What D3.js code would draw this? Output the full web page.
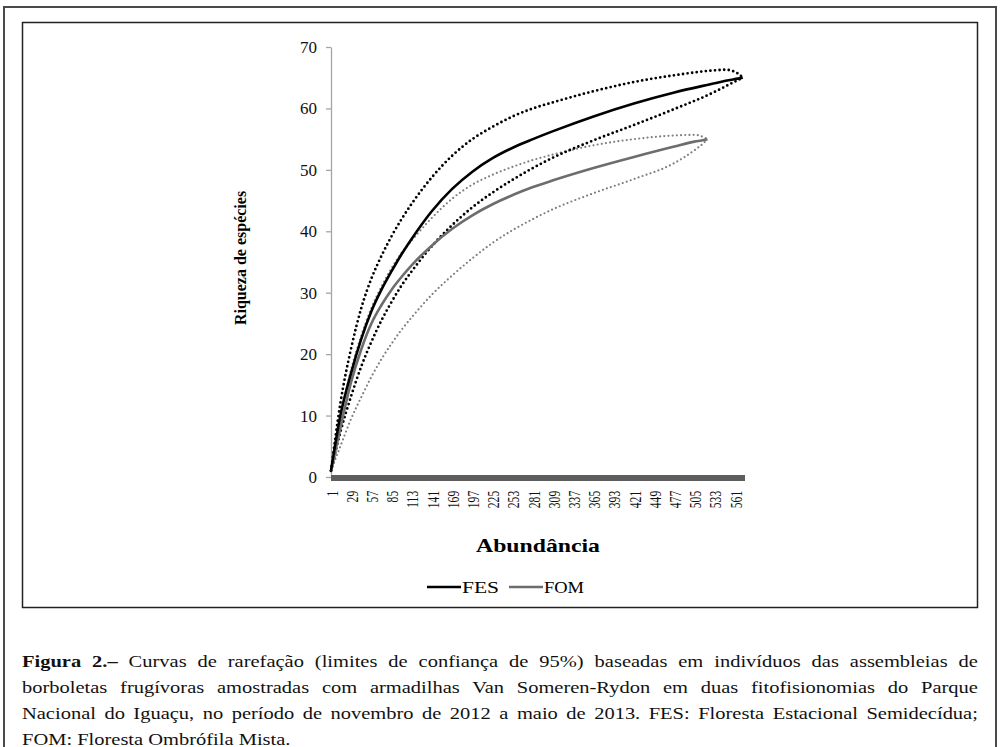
<!DOCTYPE html>
<html>
<head>
<meta charset="utf-8">
<script src="https://cdn.jsdelivr.net/npm/d3@7"></script>
<style>
    body { margin: 0; background: #fff; }
    #page { position: relative; width: 1000px; height: 747px; overflow: hidden; }
    #caption {
        position: absolute; left: 22px; top: 650px; width: 817px;
        transform: scaleX(1.17); transform-origin: left top;
        font-family: "Liberation Serif", "Times New Roman", serif;
        font-size: 17.5px; line-height: 26px; color: #111;
    }
    #caption div { height: 26px; line-height: 22px; text-align: justify; text-align-last: justify; white-space: nowrap; }
    #caption div.last { text-align-last: left; height: 22px; }
</style>
</head>
<body>
<div id="page">
    <div id="chart"></div>
    <div id="caption">
        <div><b>Figura 2.–</b> Curvas de rarefação (limites de confiança de 95%) baseadas em indivíduos das assembleias de</div>
        <div>borboletas frugívoras amostradas com armadilhas Van Someren-Rydon em duas fitofisionomias do Parque</div>
        <div>Nacional do Iguaçu, no período de novembro de 2012 a maio de 2013. FES: Floresta Estacional Semidecídua;</div>
        <div class="last">FOM: Floresta Ombrófila Mista.</div>
    </div>
</div>
<script>
// abundance (individuals) sampled along each curve
let fesN = [1, 14, 29, 43, 57, 71, 85, 99, 113, 141, 169, 197, 225, 253, 281, 309, 365, 421, 477, 533, 548, 565, 572];
let fesMean = [1, 10, 17, 22.5, 27, 30.5, 33.5, 36.3, 38.8, 43.3, 46.9, 49.7, 51.9, 53.6, 55, 56.3, 58.7, 60.8, 62.6, 64.1, 64.5, 64.85, 65];
let fesUpper = [1, 12, 21, 27.5, 32.3, 36, 39.2, 42, 44.5, 48.8, 52.3, 55, 57, 58.7, 60, 61, 62.8, 64.3, 65.4, 66.2, 66.3, 65.7, 65];
let fesLower = [1, 7.3, 13.2, 18, 22, 25.5, 28.5, 31.2, 33.5, 37.6, 41, 43.9, 46.3, 48.4, 50.3, 52, 54.8, 57.3, 59.9, 62.7, 63.6, 64.6, 65];

let fomN = [1, 14, 29, 43, 57, 71, 85, 99, 113, 141, 169, 197, 225, 253, 281, 309, 365, 421, 477, 505, 518, 523];
let fomMean = [1, 8, 15.5, 20.8, 25, 28, 30.5, 32.6, 34.5, 37.7, 40.4, 42.6, 44.4, 45.9, 47.2, 48.3, 50.3, 52.1, 53.8, 54.6, 54.85, 55];
let fomUpper = [1, 9.5, 17.5, 23, 27.5, 31, 34, 36.5, 38.5, 42.2, 45.3, 47.6, 49.2, 50.5, 51.6, 52.5, 54, 55, 55.6, 55.7, 55.3, 55];
let fomLower = [1, 5, 9.5, 13, 16.3, 19.2, 21.7, 24, 26, 29.7, 32.8, 35.6, 38.1, 40.2, 42, 43.6, 46.2, 48.5, 51.1, 53.2, 54.4, 55];

let xTickLabels = [1, 29, 57, 85, 113, 141, 169, 197, 225, 253, 281, 309, 337, 365, 393, 421, 449, 477, 505, 533, 561];
let yTickLabels = [0, 10, 20, 30, 40, 50, 60, 70];
let seriesNames = ["FES", "FOM"];

class RarefactionChart {

    constructor(parentElement) {
        this.parentElement = parentElement;
        this.initVis();
    }

    initVis() {
        let vis = this;

        vis.svg = d3.select("#" + vis.parentElement).append("svg")
            .attr("width", 1000)
            .attr("height", 747)
            .style("position", "absolute")
            .style("left", 0).style("top", 0);

        // outer page frame and inner chart frame
        vis.svg.append("rect")
            .attr("x", 4).attr("y", 7).attr("width", 992).attr("height", 760)
            .attr("fill", "none").attr("stroke", "#4a4a4a").attr("stroke-width", 2);
        vis.svg.append("rect")
            .attr("x", 22.5).attr("y", 22.5).attr("width", 955).attr("height", 585)
            .attr("fill", "none").attr("stroke", "#222").attr("stroke-width", 1.5);

        vis.font = "'Liberation Serif', 'Times New Roman', serif";

        vis.x = d3.scaleLinear().domain([1, 575]).range([331, 745]);
        vis.y = d3.scaleLinear().domain([0, 70]).range([477, 47]);

        // y axis
        let yAxis = d3.axisLeft(vis.y)
            .tickValues(yTickLabels)
            .tickSize(5)
            .tickSizeOuter(0)
            .tickPadding(9);
        let gy = vis.svg.append("g")
            .attr("transform", `translate(${vis.x(1)},0)`)
            .call(yAxis);
        gy.select(".domain").attr("stroke", "#a6a6a6").attr("stroke-width", 1.3);
        gy.selectAll(".tick line").attr("stroke", "#a6a6a6").attr("stroke-width", 1.3);
        gy.selectAll("text")
            .style("font-family", vis.font).style("font-size", "17px").attr("fill", "#111");

        // x axis (category labels, rotated; squeezed along their length like the source)
        let xAxis = d3.axisBottom(vis.x)
            .tickValues(xTickLabels)
            .tickSize(0);
        let gx = vis.svg.append("g")
            .attr("transform", `translate(0,${vis.y(0)})`)
            .call(xAxis);
        gx.select(".domain").remove();
        gx.selectAll("text")
            .attr("transform", "rotate(-90) scale(0.66,1)")
            .attr("x", -21).attr("y", 0).attr("dy", "0.35em")
            .style("text-anchor", "end")
            .style("font-family", vis.font).style("font-size", "17.5px").attr("fill", "#111");

        // thick grey baseline
        vis.svg.append("line")
            .attr("x1", vis.x(1)).attr("x2", vis.x(575))
            .attr("y1", vis.y(0) + 1).attr("y2", vis.y(0) + 1)
            .attr("stroke", "#5e5e5e").attr("stroke-width", 6);

        // axis titles
        vis.svg.append("text")
            .text("Abundância")
            .attr("x", 476).attr("y", 552)
            .attr("textLength", 124)
            .attr("lengthAdjust", "spacingAndGlyphs")
            .style("font-family", vis.font).style("font-weight", "bold").style("font-size", "19px");
        vis.svg.append("text")
            .text("Riqueza de espécies")
            .attr("transform", "translate(246,258) rotate(-90)")
            .attr("text-anchor", "middle")
            .style("font-family", vis.font).style("font-weight", "bold").style("font-size", "16px");

        vis.drawCurves();
        vis.drawLegend();
    }

    drawCurves() {
        let vis = this;

        let line = d3.line()
            .x(d => vis.x(d[0]))
            .y(d => vis.y(d[1]))
            .curve(d3.curveMonotoneX);

        let curves = [
            {n: fomN, v: fomUpper, color: "#7f7f7f", width: 2.2, dash: "0 4.2"},
            {n: fomN, v: fomLower, color: "#7f7f7f", width: 2.2, dash: "0 4.2"},
            {n: fesN, v: fesUpper, color: "#000", width: 2.8, dash: "0 4.6"},
            {n: fesN, v: fesLower, color: "#000", width: 2.8, dash: "0 4.6"},
            {n: fomN, v: fomMean, color: "#6d6d6d", width: 2.6, dash: null},
            {n: fesN, v: fesMean, color: "#000", width: 2.6, dash: null}
        ];

        vis.svg.selectAll(".curve")
            .data(curves)
            .enter()
            .append("path")
            .attr("class", "curve")
            .attr("d", c => line(c.n.map((n, i) => [n, c.v[i]])))
            .attr("fill", "none")
            .attr("stroke", c => c.color)
            .attr("stroke-width", c => c.width)
            .attr("stroke-linecap", c => c.dash ? "round" : "butt")
            .attr("stroke-dasharray", c => c.dash);
    }

    drawLegend() {
        let vis = this;
        let colors = ["#000", "#6d6d6d"];
        let lx = [427, 509];
        let textW = [37, 40];

        let items = vis.svg.selectAll(".legend-item")
            .data(seriesNames)
            .enter()
            .append("g")
            .attr("class", "legend-item")
            .attr("transform", (d, i) => `translate(${lx[i]},587)`);

        items.append("line")
            .attr("x1", 0).attr("x2", 34)
            .attr("stroke", (d, i) => colors[i])
            .attr("stroke-width", 2.6);
        items.append("text")
            .text(d => d)
            .attr("x", 35).attr("dy", "0.35em")
            .attr("textLength", (d, i) => textW[i])
            .attr("lengthAdjust", "spacingAndGlyphs")
            .style("font-family", vis.font).style("font-size", "16px");
    }
}

new RarefactionChart("chart");
</script>
</body>
</html>
